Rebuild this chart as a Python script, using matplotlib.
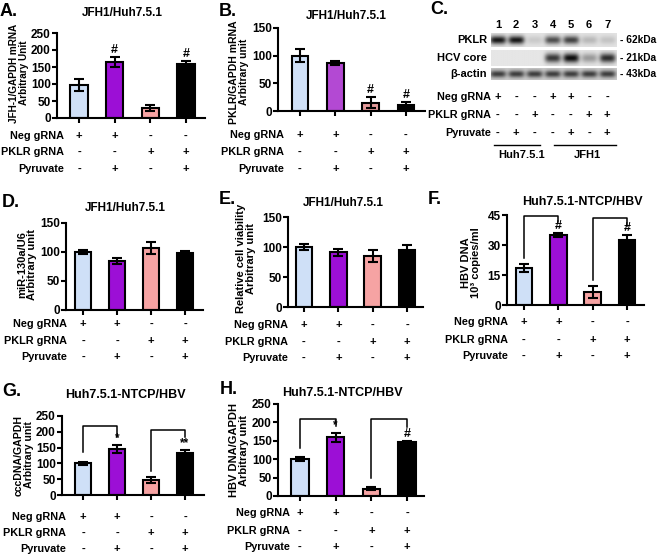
import numpy as np
import matplotlib
matplotlib.use('Agg')
import matplotlib.pyplot as plt
from matplotlib import transforms

plt.rcParams['font.family'] = ['Liberation Sans', 'DejaVu Sans']
plt.rcParams['font.weight'] = 'bold'

W, H = 660, 554

# treatment table under each bar panel
row_names = ['Neg gRNA', 'PKLR gRNA', 'Pyruvate']
neg = ['+', '+', '-', '-']
pklr = ['-', '-', '+', '+']
pyr = ['-', '+', '-', '+']

# bar values (mean, sem)
a_mean = [98, 164, 30, 158]
a_err = [18, 14, 9, 10]
b_mean = [100, 87, 15, 10]
b_err = [12, 3, 10, 6]
d_mean = [100, 84, 107, 98]
d_err = [4, 5, 11, 3]
e_mean = [100, 91, 85, 95]
e_err = [5, 6, 10, 8]
f_mean = [18.5, 35, 6.5, 32.5]
f_err = [2.2, 1.2, 3, 2.5]
g_mean = [100, 145, 48, 133]
g_err = [5, 12, 10, 10]
h_mean = [100, 160, 20, 147]
h_err = [6, 12, 4, 3]

# significance marks (bar, y, text) and brackets (i0, i1, y_left, y_top, y_right)
a_marks = [(1, 181, '#'), (3, 171, '#')]
b_marks = [(2, 27, '#'), (3, 18, '#')]
f_marks = [(1, 36.6, '#'), (3, 35.3, '#')]
f_brackets = [(0, 1, 23.5, 44.5, 41.5), (2, 3, 12.5, 43.5, 39.5)]
g_marks = [(1, 160, '*'), (3, 146, '**')]
g_brackets = [(0, 1, 135, 218, 185), (2, 3, 75, 205, 182)]
h_marks = [(1, 175, '*'), (3, 152, '#')]
h_brackets = [(0, 1, 130, 210, 190), (2, 3, 50, 208, 188)]

# western blot (panel C)
lanes = ['1', '2', '3', '4', '5', '6', '7']
blot_names = ['PKLR', 'HCV core', 'β-actin']
blot_kda = ['- 62kDa', '- 21kDa', '- 43kDa']
pklr_band = [0.95, 0.95, 0.12, 0.7, 0.75, 0.2, 0.15]
core_band = [0.0, 0.0, 0.0, 0.8, 1.0, 0.35, 0.85]
actin_band = [0.75, 0.75, 0.75, 0.75, 0.75, 0.75, 0.75]
c_neg = ['+', '-', '-', '+', '+', '-', '-']
c_pklr = ['-', '-', '+', '-', '-', '+', '+']
c_pyr = ['-', '+', '-', '-', '+', '-', '+']

colors = ['#cfe0f7', '#9c0fd6', '#f6a3a3', '#000000']
colors_b = ['#cfe0f7', '#b349d3', '#e39a9a', '#000000']

fig = plt.figure(figsize=(6.6, 5.54), dpi=100)


def ftext(x, y, s, **kw):
    return fig.text(x / W, 1 - y / H, s, **kw)


def bar_panel(letter, title, ylabel, mean, err, ylim, yticks, g,
              cols=colors, marks=(), brackets=(), tsize=8.5, ysize=8):
    s = (g['b4'] - g['b1']) / 3.0
    ax = fig.add_axes([g['xl'] / W, 1 - g['bot'] / H,
                       (g['xr'] - g['xl']) / W, (g['bot'] - g['top']) / H])
    x = np.arange(len(mean))
    ax.bar(x, mean, 0.48, color=cols, edgecolor='k', linewidth=1.5,
           yerr=err, capsize=3.5,
           error_kw=dict(elinewidth=1.5, capthick=1.5, ecolor='k'))
    ax.set_xlim((g['xl'] - g['b1']) / s, (g['xr'] - g['b1']) / s)
    ax.set_ylim(*ylim)
    ax.set_yticks(yticks)
    ax.set_xticks(x)
    ax.set_xticklabels([])
    for sp in ['top', 'right']:
        ax.spines[sp].set_visible(False)
    for sp in ['left', 'bottom']:
        ax.spines[sp].set_linewidth(1.5)
    ax.tick_params(width=1.5, length=3.5, labelsize=8.5, pad=1)
    for i0, i1, yl, yt, yr in brackets:
        ax.plot([i0, i0, i1, i1], [yl, yt, yt, yr], color='k', lw=1.1,
                clip_on=False)
    for i, y, t in marks:
        ax.text(i, y, t, ha='center', va='bottom', fontsize=9 if t == '#' else 8.5)
    trans = transforms.blended_transform_factory(ax.transData, fig.transFigure)
    for row, name, yr in zip([neg, pklr, pyr], row_names, g['rows']):
        ftext(g['lab'], yr, name, ha='right', va='center', fontsize=7.8)
        for i, sym in enumerate(row):
            ax.text(i, 1 - yr / H, sym, transform=trans, ha='center',
                    va='center', fontsize=8)
    ftext(g['title'][0], g['title'][1], title, ha='center', va='center',
          fontsize=tsize)
    ftext(g['letter'][0], g['letter'][1], letter, ha='left', va='center',
          fontsize=13)
    ftext(g['ylab'][0], g['ylab'][1], ylabel, ha='center', va='center',
          rotation=90, multialignment='center', fontsize=ysize, linespacing=1.05)
    return ax


lay = {
    'A': dict(b1=79, b4=186, xl=57, xr=205, top=33, bot=118, lab=64,
              rows=(136, 152, 169), title=(122, 13), letter=(0, 12), ylab=(19, 73)),
    'B': dict(b1=300, b4=406, xl=278, xr=425, top=28, bot=111, lab=284,
              rows=(135, 152, 169), title=(346, 16), letter=(219, 12), ylab=(239, 72)),
    'D': dict(b1=83, b4=185, xl=66, xr=203, top=223, bot=310, lab=67,
              rows=(324, 341, 357), title=(125, 208), letter=(2, 202), ylab=(27, 265)),
    'E': dict(b1=304, b4=407, xl=288, xr=423, top=217, bot=307, lab=288,
              rows=(325, 342, 358), title=(343, 203), letter=(219, 200), ylab=(246, 258)),
    'F': dict(b1=524, b4=627, xl=507, xr=644, top=215, bot=305, lab=508,
              rows=(322, 340, 356), title=(582, 202), letter=(428, 200), ylab=(471, 263)),
    'G': dict(b1=83, b4=185, xl=62, xr=204, top=416, bot=495, lab=66,
              rows=(517, 533, 549), title=(125, 395), letter=(2, 391), ylab=(24, 455)),
    'H': dict(b1=300, b4=407, xl=278, xr=424, top=404, bot=496, lab=290,
              rows=(513, 531, 547), title=(342, 393), letter=(220, 390), ylab=(239, 450)),
}

bar_panel('A.', 'JFH1/Huh7.5.1', 'JFH-1/GAPDH mRNA\nArbitrary Unit', a_mean, a_err,
          (0, 250), range(0, 251, 50), lay['A'], marks=a_marks, ysize=7.2)
bar_panel('B.', 'JFH1/Huh7.5.1', 'PKLR/GAPDH mRNA\nArbitrary unit', b_mean, b_err,
          (0, 150), range(0, 151, 50), lay['B'], cols=colors_b, marks=b_marks,
          ysize=7.5)
bar_panel('D.', 'JFH1/Huh7.5.1', 'miR-130a/U6\nArbitrary unit', d_mean, d_err,
          (0, 150), range(0, 151, 50), lay['D'])
bar_panel('E.', 'JFH1/Huh7.5.1', 'Relative cell viability\nArbitrary unit', e_mean, e_err,
          (0, 150), range(0, 151, 50), lay['E'])
bar_panel('F.', 'Huh7.5.1-NTCP/HBV', 'HBV DNA\n10³ copies/ml', f_mean, f_err,
          (0, 45), range(0, 46, 15), lay['F'], marks=f_marks, brackets=f_brackets,
          tsize=9)
bar_panel('G.', 'Huh7.5.1-NTCP/HBV', 'cccDNA/GAPDH\nArbitrary unit', g_mean, g_err,
          (0, 250), range(0, 251, 50), lay['G'], marks=g_marks, brackets=g_brackets,
          tsize=9, ysize=7.6)
bar_panel('H.', 'Huh7.5.1-NTCP/HBV', 'HBV DNA/GAPDH\nArbitrary unit', h_mean, h_err,
          (0, 250), range(0, 251, 50), lay['H'], marks=h_marks, brackets=h_brackets,
          tsize=9)

# ---- panel C: blot drawn in (lane, pixel-row) coordinates
lane0, sp = 498.0, 18.2
cax = fig.add_axes([440 / W, 1 - 170 / H, 220 / W, 170 / H])
cxl, cxr = (440 - lane0) / sp, (660 - lane0) / sp
ftext(430, 10, 'C.', ha='left', va='center', fontsize=13)
for i, t in enumerate(lanes):
    cax.text(i, 25, t, ha='center', va='center', fontsize=8)

strip_rows = [(33, 47), (50, 66), (68, 80)]
strip_bg = [0.89, 0.90, 0.80]
sl, sr = -0.38, 6.5
xs = np.linspace(sl, sr, 300)
for name, kda, dens, (y0, y1), bg in zip(blot_names, blot_kda,
                                         [pklr_band, core_band, actin_band],
                                         strip_rows, strip_bg):
    X, Y = np.meshgrid(xs, np.linspace(0, 1, 40))
    img = np.full(X.shape, bg)
    for i, d in enumerate(dens):
        shape = np.exp(-((X - i) / 0.44) ** 4) * np.exp(-((Y - 0.5) / 0.3) ** 2)
        img -= d * (bg - 0.05) * shape
    cax.imshow(np.clip(img, 0, 1), cmap='gray', vmin=0, vmax=1,
               extent=(sl, sr, y1, y0), aspect='auto', interpolation='bilinear')
    cax.text((487 - lane0) / sp, (y0 + y1) / 2, name, ha='right', va='center',
             fontsize=8)
    cax.text((620 - lane0) / sp, (y0 + y1) / 2, kda, ha='left', va='center',
             fontsize=7.3)

for row, name, yr in zip([c_neg, c_pklr, c_pyr], row_names, (97, 115, 133)):
    cax.text((491 - lane0) / sp, yr, name, ha='right', va='center', fontsize=7.8)
    for i, sym in enumerate(row):
        cax.text(i, yr, sym, ha='center', va='center', fontsize=8)

cax.plot([-0.2, 2.3], [145, 145], color='k', lw=1)
cax.plot([3.1, 6.5], [145, 145], color='k', lw=1)
cax.text(1.3, 155, 'Huh7.5.1', ha='center', va='center', fontsize=8)
cax.text(4.9, 155, 'JFH1', ha='center', va='center', fontsize=8)
cax.set_xlim(cxl, cxr)
cax.set_ylim(170, 0)
cax.axis('off')

fig.savefig('out.png', dpi=100)
